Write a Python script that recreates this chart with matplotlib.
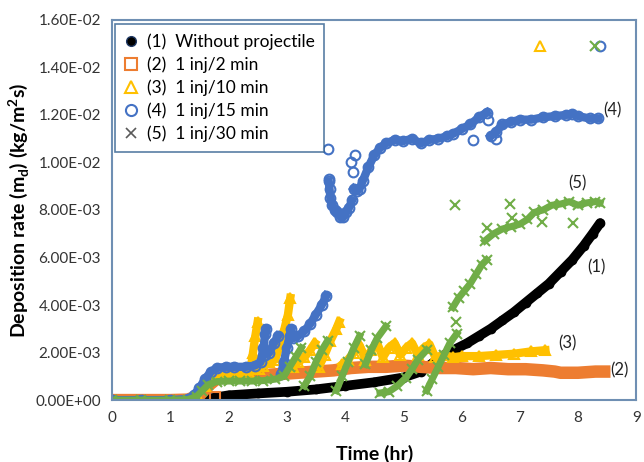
import numpy as np
import matplotlib.pyplot as plt
from matplotlib.lines import Line2D

plt.rcParams['font.family'] = ['Lato', 'DejaVu Sans']

# Series (1) Without projectile -- time (hr), rate (x1e-3 kg/m2s)
t1 = [0, 0.5, 1.0, 1.5, 1.65, 1.8, 2.0, 2.5, 3.0, 3.5, 4.0, 4.5, 5.0, 5.3, 5.5, 5.7, 5.9,
      6.1, 6.3, 6.5, 6.7, 6.9, 7.1, 7.3, 7.5, 7.7, 7.9, 8.1, 8.25, 8.38]
v1 = [0, 0, 0, 0, 0.05, 0.12, 0.2, 0.28, 0.35, 0.45, 0.6, 0.75, 0.95, 1.2, 1.55, 1.9, 2.15,
      2.4, 2.7, 3.0, 3.35, 3.7, 4.1, 4.5, 4.9, 5.4, 5.9, 6.5, 7.0, 7.45]

# Series (2) 1 inj/2 min
t2 = [0, 0.5, 1.0, 1.3, 1.5, 1.65, 1.8, 2.0, 2.3, 2.6, 2.9, 3.2, 3.5, 3.8, 4.1, 4.4, 4.7, 5.0,
      5.3, 5.6, 5.9, 6.2, 6.5, 6.8, 7.1, 7.4, 7.6, 7.7, 8.0, 8.3, 8.45]
v2 = [0, 0, 0, 0.02, 0.2, 0.6, 0.9, 1.0, 1.0, 1.05, 1.1, 1.15, 1.2, 1.25, 1.35, 1.4, 1.4, 1.45,
      1.4, 1.35, 1.35, 1.3, 1.35, 1.3, 1.3, 1.25, 1.2, 1.15, 1.15, 1.2, 1.2]
t2_out = [1.77]
v2_out = [0.12]

# Series (3) 1 inj/10 min (None breaks the trace between injections)
t3 = [0, 0.5, 1.0, 1.3, 1.45, 1.6, 1.75, 1.9, 2.05, 2.2, 2.35, None,
      2.38, 2.42, 2.46, 2.5, None,
      2.52, 2.6, 2.7, 2.8, 2.88, 2.96, 3.02, 3.06, None,
      3.1, 3.2, 3.3, 3.4, 3.48, None,
      3.55, 3.65, 3.75, 3.85, 3.9, None,
      3.95, 4.05, 4.15, 4.25, 4.35, 4.45, 4.55, 4.65, 4.75, 4.85, 4.95, 5.05, 5.15, 5.25,
      5.35, 5.45, 5.55, 5.7, 5.85, 6.0, 6.3, 6.6, 6.9, 7.2, 7.44]
v3 = [0, 0, 0, 0.02, 0.2, 0.6, 0.9, 1.0, 1.05, 1.1, 1.15, None,
      1.3, 2.0, 2.7, 3.3, None,
      1.3, 1.45, 1.6, 1.7, 2.3, 3.0, 3.6, 4.3, None,
      1.4, 1.6, 1.8, 2.1, 2.4, None,
      1.4, 1.9, 2.5, 3.0, 3.3, None,
      1.5, 1.7, 2.0, 2.3, 1.7, 2.1, 2.4, 1.8, 2.2, 2.4, 1.9, 2.2, 2.4, 1.9,
      2.2, 2.35, 1.8, 1.9, 1.8, 1.85, 1.85, 1.9, 1.95, 2.05, 2.1]
t3_out = [7.35]
v3_out = [14.9]

# Series (4) 1 inj/15 min
t4 = [0, 0.5, 1.0, 1.3, 1.4, 1.5, 1.6, 1.7, 1.8, 1.95, 2.1, 2.3, 2.45, 2.55, 2.6, 2.63, 2.65, None,
      2.62, 2.7, 2.78, 2.85, None,
      2.9, 2.95, 3.0, 3.05, 3.08, None,
      3.1, 3.2, 3.3, 3.4, 3.5, 3.6, 3.68, None,
      3.72, 3.75, 3.78, 3.82, 3.87, 3.92, 3.97, 4.02, 4.07, 4.12, None,
      4.15, 4.2, 4.25, 4.3, 4.4, 4.5, 4.6, 4.7, 4.85, 5.0, 5.15, 5.3, 5.45, 5.6, 5.75, 5.85,
      6.0, 6.15, 6.3, 6.43, None,
      6.5, 6.6, 6.7, 6.85, 7.0, 7.2, 7.4, 7.6, 7.8, 7.9, 8.0, 8.2, 8.35]
v4 = [0, 0, 0, 0.05, 0.2, 0.5, 0.9, 1.2, 1.35, 1.4, 1.4, 1.4, 1.45, 1.6, 2.2, 2.8, 3.0, None,
      1.9, 2.0, 2.4, 2.7, None,
      1.1, 1.6, 2.2, 2.7, 3.0, None,
      2.6, 2.7, 2.9, 3.2, 3.6, 4.0, 4.4, None,
      9.2, 8.5, 8.2, 8.0, 7.9, 7.7, 7.7, 7.9, 8.1, 8.4, None,
      8.9, 8.8, 8.9, 9.2, 9.8, 10.3, 10.6, 10.8, 10.95, 10.9, 11.0, 10.8, 10.95, 11.0, 11.1, 11.2,
      11.4, 11.6, 11.9, 12.1, None,
      11.1, 11.3, 11.6, 11.7, 11.8, 11.8, 11.9, 11.95, 12.0, 12.05, 11.95, 11.85, 11.85]
t4_out = [3.7, 3.72, 3.74, 4.13, 4.17, 4.1, 6.2, 6.45, 6.6, 8.38]
v4_out = [10.55, 9.3, 8.9, 9.6, 10.3, 10.0, 10.95, 11.8, 11.0, 14.9]

# Series (5) 1 inj/30 min
t5 = [0, 0.5, 1.0, 1.3, 1.45, 1.55, 1.65, 1.8, 2.0, 2.2, 2.4, 2.6, 2.8, 2.95, 3.05, 3.15, 3.25, None,
      3.3, 3.4, 3.5, 3.6, 3.7, None,
      3.85, 3.95, 4.05, 4.15, 4.25, None,
      4.35, 4.45, 4.55, 4.7, None,
      4.6, 4.75, 4.9, 5.05, 5.15, 5.25, 5.4, None,
      5.4, 5.5, 5.6, 5.7, 5.8, 5.92, None,
      5.85, 5.95, 6.05, 6.15, 6.25, 6.35, 6.43, None,
      6.4, 6.55, 6.7, 6.85, 7.0, 7.13, 7.25, 7.4, 7.55, 7.7, 7.85, 8.0, 8.15, 8.3, 8.38]
v5 = [0, 0, 0, 0.02, 0.15, 0.4, 0.65, 0.78, 0.8, 0.8, 0.8, 0.82, 0.88, 1.0, 1.4, 1.8, 2.2, None,
      0.6, 1.0, 1.6, 2.1, 2.5, None,
      0.4, 1.0, 1.6, 2.2, 2.7, None,
      1.5, 2.1, 2.6, 3.1, None,
      0.3, 0.35, 0.6, 0.95, 1.3, 1.7, 2.1, None,
      0.4, 0.9, 1.4, 1.9, 2.4, 2.8, None,
      3.9, 4.3, 4.6, 4.9, 5.3, 5.7, 5.9, None,
      6.7, 7.0, 7.2, 7.3, 7.4, 7.6, 7.9, 8.0, 8.2, 8.25, 8.35, 8.2, 8.3, 8.35, 8.3]
t5_out = [5.88, 6.43, 6.83, 6.86, 7.38, 7.92, 5.9, 8.3]
v5_out = [8.2, 7.25, 8.25, 7.65, 7.5, 7.45, 3.3, 14.9]

labels = ['(1)  Without projectile', '(2)  1 inj/2 min', '(3)  1 inj/10 min',
          '(4)  1 inj/15 min', '(5)  1 inj/30 min']
end_labels = ['(1)', '(2)', '(3)', '(4)', '(5)']
end_t = [8.16, 8.55, 7.66, 8.43, 7.83]
end_v = [5.6, 1.25, 2.4, 12.2, 9.1]

c_black = '#000000'
c_orange = '#ED7D31'
c_yellow = '#FFC000'
c_blue = '#4472C4'
c_green = '#70AD47'


def arr(a):
    return np.array([np.nan if x is None else x for x in a], dtype=float)


fig = plt.figure(figsize=(6.44, 4.62), dpi=100)
ax = fig.add_axes([0.174, 0.134, 0.814, 0.823])

sc = 1e-3
# (1) black thick trace
ax.plot(arr(t1), arr(v1) * sc, color=c_black, lw=7, solid_capstyle='round')
ax.plot(arr(t1), arr(v1) * sc, 'o', color=c_black, ms=6)
# (2) orange
ax.plot(arr(t2), arr(v2) * sc, color=c_orange, lw=9)
ax.plot(t2_out, np.array(v2_out) * sc, 's', mfc='none', mec=c_orange, ms=7, mew=1.5)
# (3) yellow
ax.plot(arr(t3), arr(v3) * sc, color=c_yellow, lw=6)
ax.plot(arr(t3), arr(v3) * sc, '^', mfc='none', mec=c_yellow, ms=7, mew=1.5)
ax.plot(t3_out, np.array(v3_out) * sc, '^', mfc='none', mec=c_yellow, ms=7, mew=1.5)
# (4) blue
ax.plot(arr(t4), arr(v4) * sc, color=c_blue, lw=6)
ax.plot(arr(t4), arr(v4) * sc, 'o', mfc='none', mec=c_blue, ms=7, mew=1.5)
ax.plot(t4_out, np.array(v4_out) * sc, 'o', mfc='none', mec=c_blue, ms=7, mew=1.5)
# (5) green
ax.plot(arr(t5), arr(v5) * sc, color=c_green, lw=5)
ax.plot(arr(t5), arr(v5) * sc, 'x', color=c_green, ms=7, mew=1.5)
ax.plot(t5_out, np.array(v5_out) * sc, 'x', color=c_green, ms=7, mew=1.5)

for lab, tx, vy in zip(end_labels, end_t, end_v):
    ax.text(tx, vy * sc, lab, fontsize=12, va='center', ha='left', color='#222222')

ax.set_xlim(0, 9)
ax.set_ylim(0, 0.016)
ax.set_xticks(range(0, 10))
ax.set_yticks(np.arange(0, 0.0161, 0.002))
ax.set_yticklabels(['%.2E' % v for v in np.arange(0, 0.0161, 0.002)])
ax.tick_params(length=0, labelsize=11, colors='#333333', pad=8)
ax.set_xlabel('Time (hr)', fontsize=14, fontweight='bold', labelpad=14)
ax.set_ylabel('Deposition rate (m$_\\mathregular{d}$) (kg/m$^\\mathregular{2}$s)',
              fontsize=14, fontweight='bold', labelpad=3)
for s in ax.spines.values():
    s.set_color('#6F8FB3')
    s.set_linewidth(1.5)

handles = [
    Line2D([], [], marker='o', ls='none', color=c_black, mec='#1F3864', ms=7),
    Line2D([], [], marker='s', ls='none', mfc='none', mec=c_orange, ms=8, mew=1.5),
    Line2D([], [], marker='^', ls='none', mfc='none', mec=c_yellow, ms=8, mew=1.5),
    Line2D([], [], marker='o', ls='none', mfc='none', mec=c_blue, ms=8, mew=1.5),
    Line2D([], [], marker='x', ls='none', color='#595959', ms=7, mew=1.2),
]
leg = ax.legend(handles, labels, loc='upper left', bbox_to_anchor=(0.005, 0.99),
                fontsize=12.5, frameon=True, fancybox=False, handlelength=0.8,
                handletextpad=0.5, labelspacing=0.38, borderpad=0.55, borderaxespad=0)
leg.get_frame().set_edgecolor('#2E5E8E')
leg.get_frame().set_linewidth(1.2)

fig.savefig('out.png', dpi=100)
